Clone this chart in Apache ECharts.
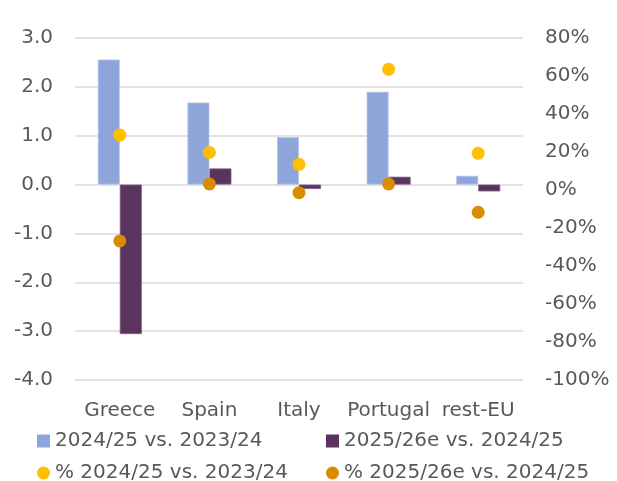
<!DOCTYPE html>
<html>
<head>
<meta charset="utf-8">
<script src="https://cdn.jsdelivr.net/npm/echarts@6/dist/echarts.min.js"></script>
<style>
  html, body { margin: 0; padding: 0; background: #fff; }
  #chart { width: 617px; height: 481px; }
</style>
</head>
<body>
<div id="chart"></div>
<script>
// Categories and series values
const categories = ['Greece', 'Spain', 'Italy', 'Portugal', 'rest-EU'];
const seriesNames = ['2024/25 vs. 2023/24', '2025/26e vs. 2024/25', '% 2024/25 vs. 2023/24', '% 2025/26e vs. 2024/25'];
const change2425 = [2.56, 1.68, 0.97, 1.90, 0.18];
const change2526 = [-3.06, 0.33, -0.09, 0.16, -0.14];
const pct2425 = [28.9, 19.8, 13.5, 63.5, 19.3];
const pct2526 = [-26.8, 3.2, -1.4, 3.2, -11.7];

const FONT = 'DejaVu Sans';
const TXT = '#595959';

const chart = echarts.init(document.getElementById('chart'), null, { renderer: 'canvas' });

function legendAt(name, left, top, icon) {
  return {
    data: [{ name: name, icon: icon }],
    left: left, top: top,
    itemWidth: 13, itemHeight: 13, itemGap: 0,
    padding: 0,
    itemStyle: { borderWidth: 0 },
    textStyle: { fontFamily: FONT, fontSize: 20, color: TXT },
    selectedMode: false
  };
}

chart.setOption({
  animation: false,
  backgroundColor: '#fff',
  grid: { left: 75, right: 94, top: 38, bottom: 101 },
  legend: [
    legendAt(seriesNames[0], 37, 431, 'rect'),
    legendAt(seriesNames[1], 326, 431, 'rect'),
    legendAt(seriesNames[2], 37, 463, 'circle'),
    legendAt(seriesNames[3], 326, 463, 'circle')
  ],
  xAxis: {
    type: 'category',
    data: categories,
    position: 'bottom',
    axisLine: { show: false, onZero: false },
    axisTick: { show: false },
    axisLabel: { fontFamily: FONT, fontSize: 20, color: TXT, margin: 21, interval: 0 }
  },
  yAxis: [
    {
      type: 'value', min: -4, max: 3, interval: 1,
      axisLine: { show: false }, axisTick: { show: false },
      axisLabel: { fontFamily: FONT, fontSize: 20, color: TXT, margin: 22,
        formatter: v => v.toFixed(1) },
      splitLine: { lineStyle: { color: '#d9d9d9', width: 1.5 } }
    },
    {
      type: 'value', min: -100, max: 80, interval: 20,
      alignTicks: false,
      axisLine: { show: false }, axisTick: { show: false },
      axisLabel: { fontFamily: FONT, fontSize: 20, color: TXT, margin: 22,
        formatter: v => v + '%' },
      splitLine: { show: false }
    }
  ],
  series: [
    {
      name: seriesNames[0], type: 'bar', data: change2425,
      barWidth: 22, barGap: '0%',
      itemStyle: { color: '#8EA5DA', borderColor: '#b9c6ec', borderWidth: 0.8 }
    },
    {
      name: seriesNames[1], type: 'bar', data: change2526,
      barWidth: 22, barGap: '0%',
      itemStyle: { color: '#5A335F', borderColor: '#7a5d80', borderWidth: 0.8 }
    },
    {
      name: seriesNames[2], type: 'scatter', yAxisIndex: 1, data: pct2425,
      symbol: 'circle', symbolSize: 13, z: 5,
      itemStyle: { color: '#FFC000', opacity: 1 }
    },
    {
      name: seriesNames[3], type: 'scatter', yAxisIndex: 1, data: pct2526,
      symbol: 'circle', symbolSize: 13, z: 5,
      itemStyle: { color: '#D98C00', opacity: 1 }
    }
  ]
});
</script>
</body>
</html>
